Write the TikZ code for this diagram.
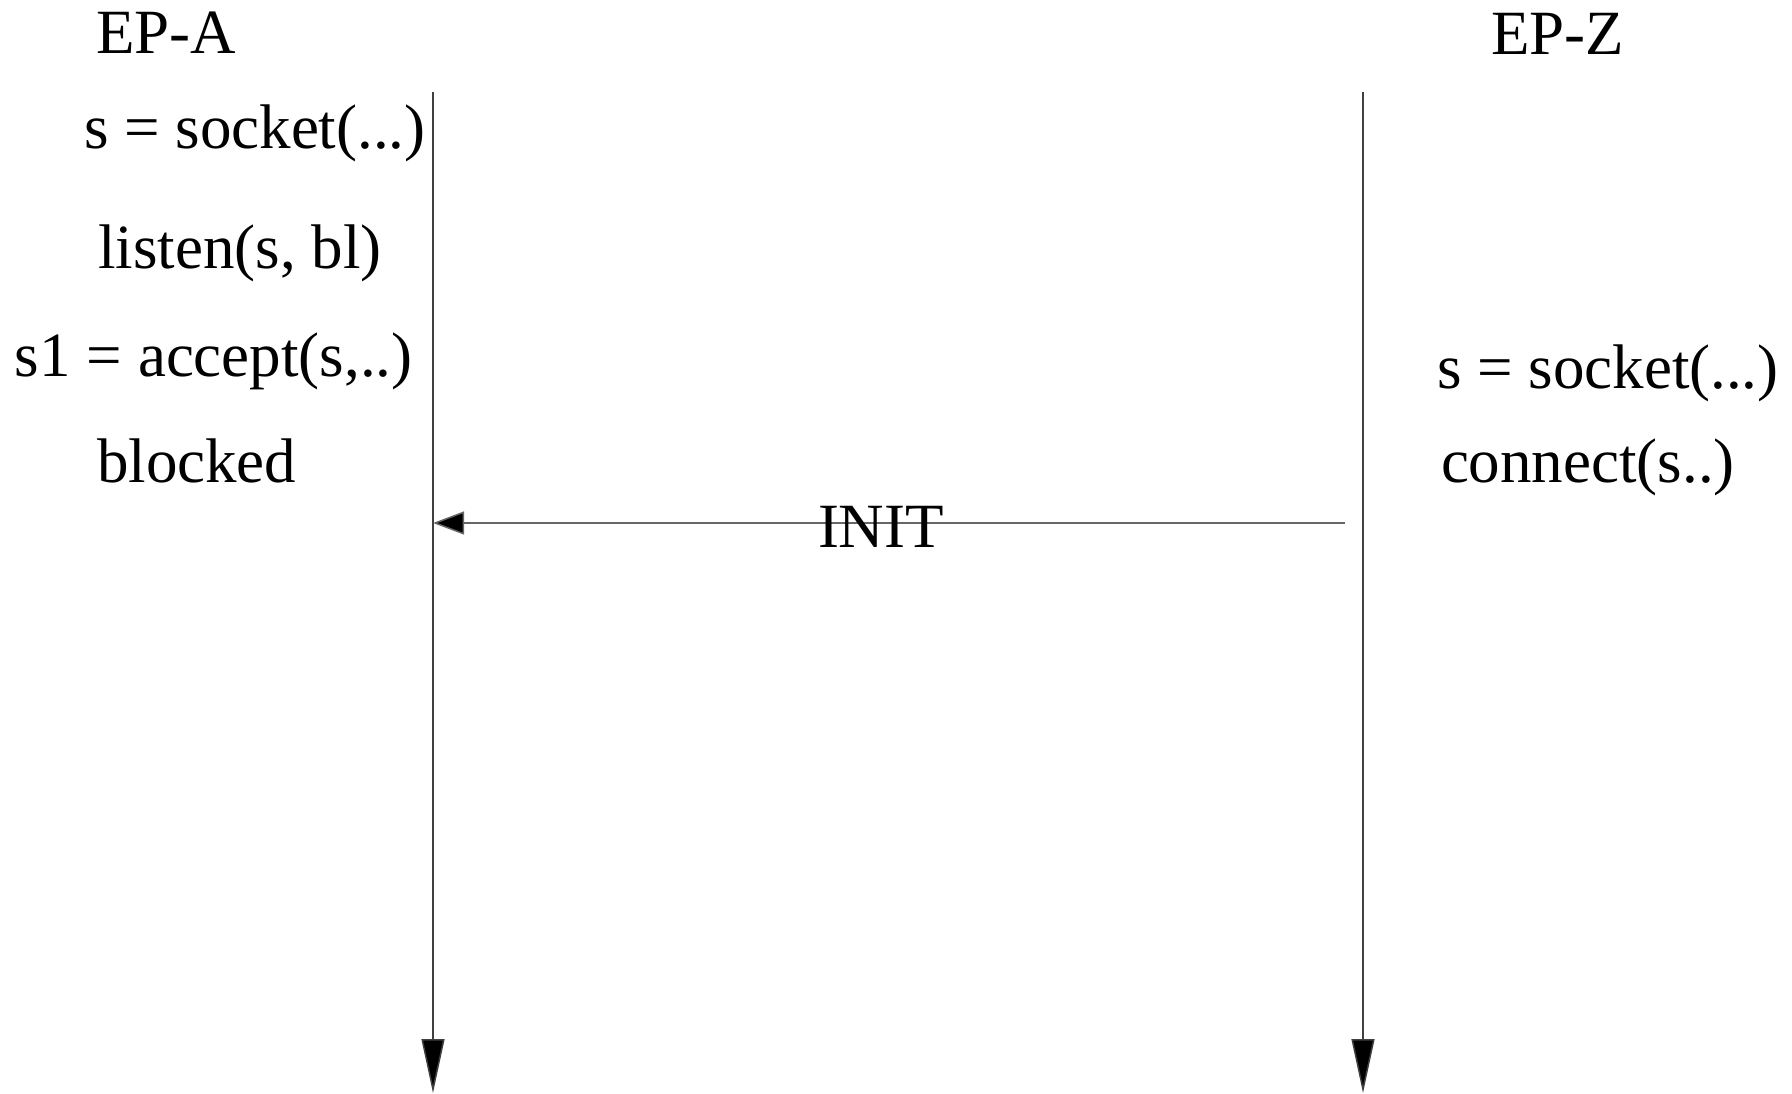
\documentclass[tikz,border=0pt]{standalone}
\usepackage{fontspec}
\setmainfont{Liberation Serif}
\usetikzlibrary{arrows.meta}
\begin{document}
\begin{tikzpicture}[x=1pt,y=-1pt,
  lbl/.style={anchor=base west,inner sep=0pt,outer sep=0pt,font=\fontsize{63}{70}\selectfont},
  lifeline/.style={line width=1.5pt,draw=black!75,-{Triangle[length=54pt,width=23pt,fill=black]}},
  msg/.style={line width=1.5pt,draw=black!60,-{Triangle[length=31pt,width=23pt,fill=black]}}]
\useasboundingbox (0,0) rectangle (1792,1093);
% headings
\node[lbl] (epa) at (96,53) {EP-A};
\node[lbl] (epz) at (1491,54) {EP-Z};
% lifelines
\coordinate (atop) at (433,92);
\coordinate (abot) at (433,1093);
\coordinate (ztop) at (1363,92);
\coordinate (zbot) at (1363,1093);
\draw[lifeline] (atop) -- (abot);
\draw[lifeline] (ztop) -- (zbot);
% EP-A texts
\node[lbl] (asock) at (84,148) {s = socket(...)};
\node[lbl] (alisten) at (98,268) {listen(s, bl)};
\node[lbl] (aaccept) at (15,376) {s1 = accept(s,..)};
\node[lbl] (ablocked) at (97,482) {blocked};
% EP-Z texts
\node[lbl] (zsock) at (1437,388) {s = socket(...)};
\node[lbl] (zconn) at (1441,482) {connect(s..)};
% INIT message
\coordinate (initstart) at (1345,523);
\coordinate (initend) at (433,523);
\draw[msg] (initstart) -- (initend);
\node[lbl] (init) at (818,547) {INIT};
\end{tikzpicture}
\end{document}
